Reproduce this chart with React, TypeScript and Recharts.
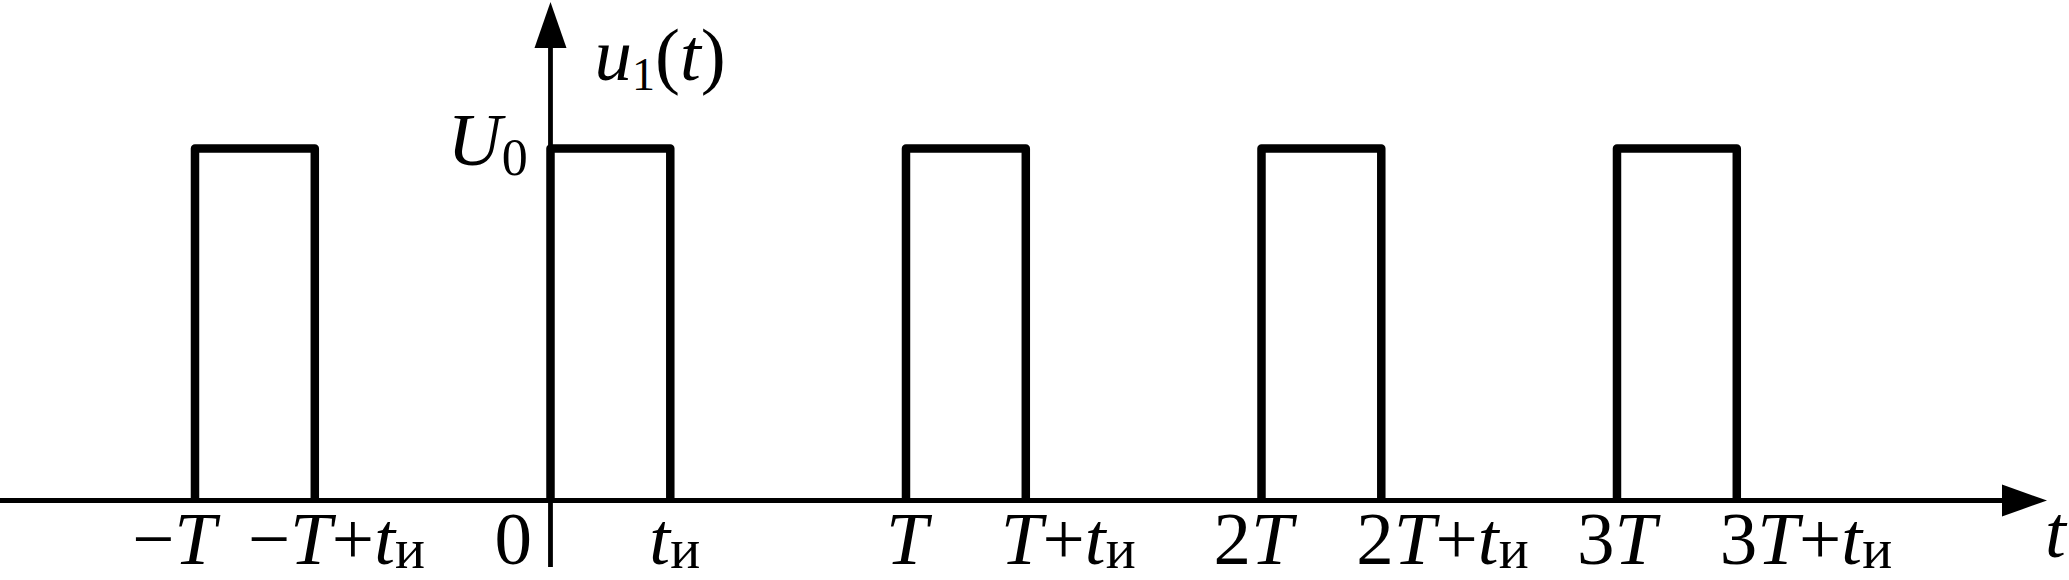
import React from 'react';
import { LineChart, Line, XAxis, YAxis, ReferenceLine, ReferenceDot } from 'recharts';

// ---- data (in units of T for time, U0 for voltage) ----
const PULSE_ON = [-1, 0, 1, 2, 3];
const PULSE_OFF = [-0.663, 0.337, 1.337, 2.337, 3.337];
const PULSE_LEVEL = 1;
const BASE_LEVEL = 0;
const TICK_VALUES = [-1, -0.663, 0, 0.337, 1, 1.337, 2, 2.337, 3, 3.337];
const TICK_LABELS = ['−T', '−T+t_и', '0', 't_и', 'T', 'T+t_и', '2T', '2T+t_и', '3T', '3T+t_и'];
const Y_LABEL = 'U_0';
const Y_TITLE = 'u_1(t)';
const X_TITLE = 't';

// axis extents
const X_DOMAIN: [number, number] = [-1.5485, 4.2715];
const Y_DOMAIN: [number, number] = [0, 1.4219];
const X_AXIS_END = 4.2096;
const Y_AXIS_START = -0.189;
const Y_AXIS_END = 1.4162;

// ---- styles ----
const W = 2069;
const H = 580;
const FONT = '"Liberation Serif", "Times New Roman", serif';
const MAIN_SIZE = 75;
const LABEL_DX: Record<string, number> = {
  '−T': -63, '−T+t_и': -67, '0': -56, 't_и': -21, 'T': -20,
  'T+t_и': -25, '2T': -48, '2T+t_и': -25, '3T': -40, '3T+t_и': -17,
};

const rows: { t: number; u: number | null }[] = [];
PULSE_ON.forEach((on, i) => {
  rows.push({ t: on, u: BASE_LEVEL });
  rows.push({ t: on, u: PULSE_LEVEL });
  rows.push({ t: PULSE_OFF[i], u: PULSE_LEVEL });
  rows.push({ t: PULSE_OFF[i], u: BASE_LEVEL });
  rows.push({ t: PULSE_OFF[i], u: null });
});

function Rich({ x, y, text, size, sub, shift }: { x: number; y: number; text: string; size: number; sub: number; shift: number }) {
  const nodes: React.ReactNode[] = [];
  let cur = 0;
  for (let i = 0; i < text.length; i++) {
    let ch = text[i];
    let isSub = false;
    if (ch === '_') { isSub = true; i++; ch = text[i]; }
    const target = isSub ? shift : 0;
    const dy = target - cur;
    cur = target;
    const italic = /[A-Za-z]/.test(ch);
    nodes.push(
      <tspan key={i} dy={dy} fontSize={isSub ? sub : size} fontStyle={italic ? 'italic' : 'normal'}>{ch}</tspan>
    );
  }
  return (
    <text x={x} y={y} fontFamily={FONT} fill="#000" textAnchor="start" style={{ whiteSpace: 'pre' }}>
      {nodes}
    </text>
  );
}

const AxisTick = (props: any) => {
  const { x, y, payload } = props;
  const i = TICK_VALUES.indexOf(payload.value);
  if (i < 0) return null;
  const label = TICK_LABELS[i];
  return <Rich x={x + (LABEL_DX[label] ?? 0)} y={y + 63} text={label} size={MAIN_SIZE} sub={56} shift={4} />;
};

function arrow(len: number, half: number, width: number, extra?: (x2: number, y2: number) => React.ReactNode) {
  return (p: any) => {
    const { x1, y1, x2, y2 } = p;
    const dx = x2 - x1;
    const dy = y2 - y1;
    const L = Math.hypot(dx, dy) || 1;
    const ux = dx / L;
    const uy = dy / L;
    const bx = x2 - ux * len;
    const by = y2 - uy * len;
    const px = -uy;
    const py = ux;
    return (
      <g>
        <line x1={x1} y1={y1} x2={bx + ux * 3} y2={by + uy * 3} stroke="#000" strokeWidth={width} />
        <polygon
          points={`${x2},${y2} ${bx + px * half},${by + py * half} ${bx - px * half},${by - py * half}`}
          fill="#000"
        />
        {extra ? extra(x2, y2) : null}
      </g>
    );
  };
}

const xArrow = arrow(45, 16, 4.8, (x2, y2) => (
  <Rich x={x2 - 2} y={y2 + 56.5} text={X_TITLE} size={MAIN_SIZE} sub={46} shift={10} />
));
const yArrow = arrow(46, 16, 4.8, (x2, y2) => (
  <Rich x={x2 + 44} y={y2 + 78} text={Y_TITLE} size={MAIN_SIZE} sub={46} shift={10} />
));

const LevelLabel = (p: any) => (
  <Rich x={p.cx - 103} y={p.cy + 16.5} text={Y_LABEL} size={MAIN_SIZE} sub={52} shift={10} />
);

export default function App() {
  return (
    <div style={{ position: 'absolute', left: 0, top: 0, width: W, height: H, background: '#fff' }}>
      <LineChart width={W} height={H} data={rows} margin={{ top: 0, right: 0, bottom: 0, left: 0 }}>
        <XAxis
          dataKey="t"
          type="number"
          domain={X_DOMAIN}
          allowDataOverflow
          ticks={TICK_VALUES}
          interval={0}
          axisLine={false}
          tickLine={false}
          tickSize={0}
          tickMargin={0}
          height={79.5}
          tick={<AxisTick />}
        />
        <YAxis hide type="number" domain={Y_DOMAIN} allowDataOverflow width={0} />
        <ReferenceLine
          segment={[{ x: X_DOMAIN[0], y: BASE_LEVEL }, { x: X_AXIS_END, y: BASE_LEVEL }]}
          ifOverflow="visible"
          shape={xArrow}
        />
        <ReferenceLine
          segment={[{ x: 0, y: Y_AXIS_START }, { x: 0, y: Y_AXIS_END }]}
          ifOverflow="visible"
          shape={yArrow}
        />
        <Line
          dataKey="u"
          type="linear"
          stroke="#000"
          strokeWidth={8.5}
          strokeLinejoin="round"
          dot={false}
          activeDot={false}
          connectNulls={false}
          isAnimationActive={false}
        />
        <ReferenceDot x={0} y={PULSE_LEVEL} r={0} ifOverflow="visible" shape={LevelLabel} />
      </LineChart>
    </div>
  );
}
